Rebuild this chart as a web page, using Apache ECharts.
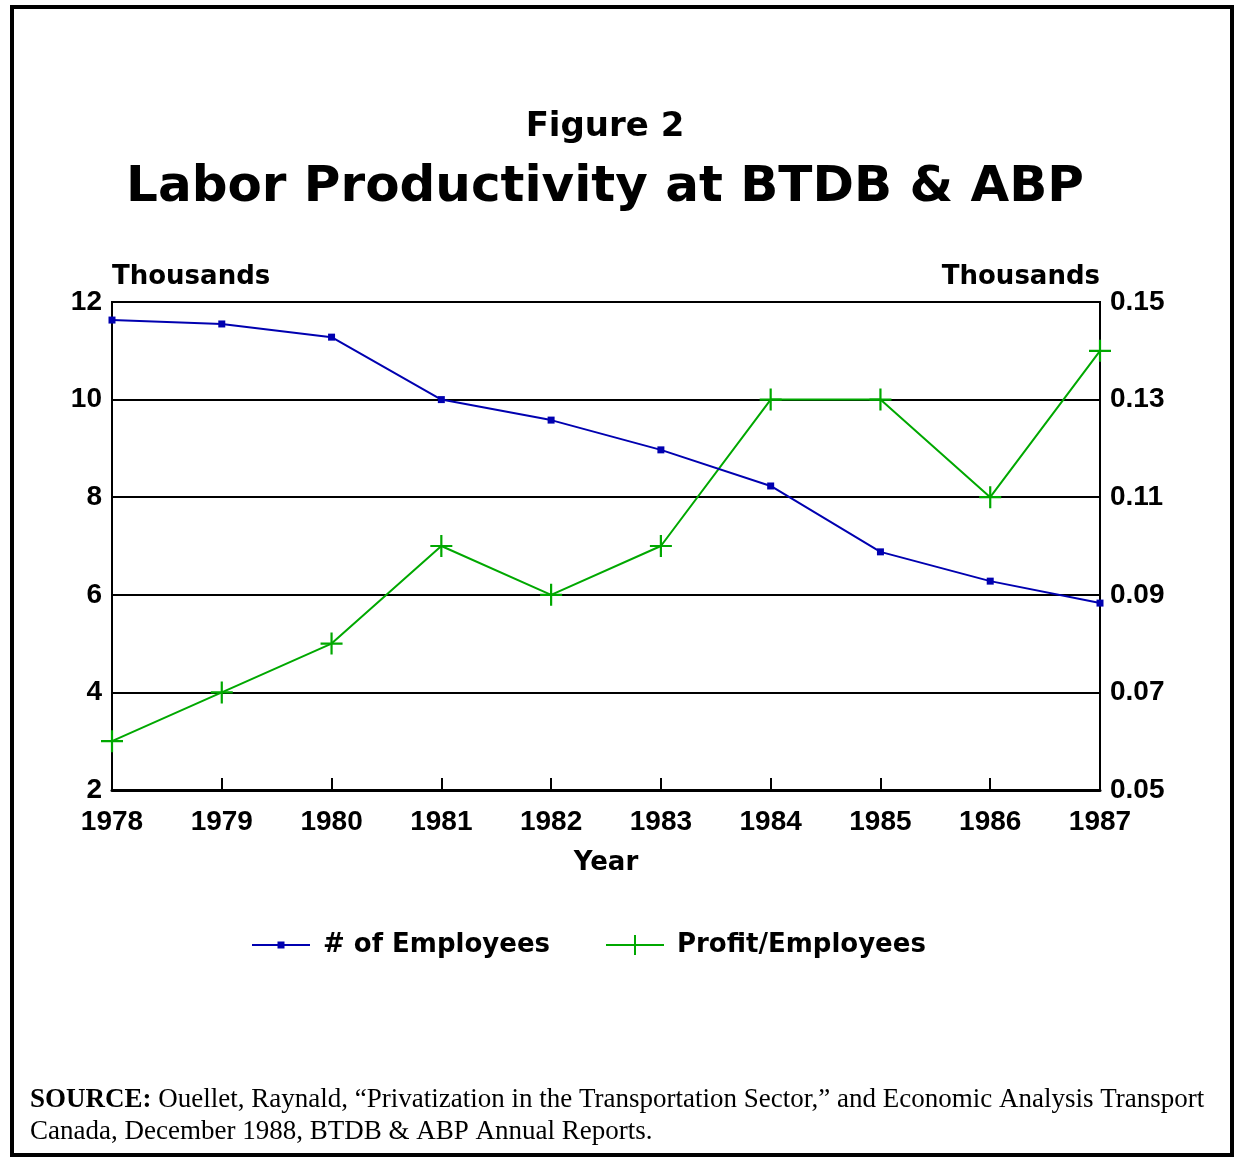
<!DOCTYPE html>
<html>
<head>
<meta charset="utf-8">
<script src="https://cdn.jsdelivr.net/npm/echarts@6/dist/echarts.min.js"></script>
<style>
  html, body { margin: 0; padding: 0; background: #fff; }
  #chart { width: 1235px; height: 1158px; }
</style>
</head>
<body>
<div id="chart"></div>
<script>
const years = ["1978", "1979", "1980", "1981", "1982", "1983", "1984", "1985", "1986", "1987"];
const employees = [11.63, 11.55, 11.28, 10.0, 9.58, 8.97, 8.23, 6.88, 6.28, 5.83];
const profitPerEmployee = [0.06, 0.07, 0.08, 0.10, 0.09, 0.10, 0.13, 0.13, 0.11, 0.14];

const FONT = "Liberation Sans";
const WIDE = "DejaVu Sans";
const BLUE = "#0000b0";
const GREEN = "#00a800";
const PLUS = "path://M0,9 L9,9 L9,0 L11,0 L11,9 L20,9 L20,11 L11,11 L11,20 L9,20 L9,11 L0,11 Z";
// legend icons: line with a small marker in the middle
const ICON_BLUE = "path://M0,9 L58,9 L58,11 L0,11 Z M25.5,6.5 L32.5,6.5 L32.5,13.5 L25.5,13.5 Z";
const ICON_GREEN = "path://M0,9 L58,9 L58,11 L0,11 Z M28,0 L30,0 L30,20 L28,20 Z";

const chart = echarts.init(document.getElementById("chart"));

const labelStyle = {
  fontFamily: FONT,
  fontWeight: "bold",
  fontSize: 28,
  color: "#000",
};

const nameStyle = {
  fontFamily: WIDE,
  fontWeight: "bold",
  fontSize: 26,
  color: "#000",
};

chart.setOption({
  backgroundColor: "#fff",
  animation: false,
  legend: {
    left: 247,
    top: 927,
    itemWidth: 58,
    itemHeight: 20,
    itemGap: 56,
    textStyle: { fontFamily: WIDE, fontWeight: "bold", fontSize: 26, color: "#000", padding: [0, 0, 0, 8] },
    data: [
      { name: "# of Employees", icon: ICON_BLUE },
      { name: "Profit/Employees", icon: ICON_GREEN },
    ],
  },
  grid: {
    left: 112,
    right: 135,
    top: 302,
    bottom: 368,
    show: true,
    borderColor: "#000",
    borderWidth: 2,
  },
  xAxis: {
    type: "category",
    data: years,
    boundaryGap: false,
    name: "Year",
    nameLocation: "middle",
    nameGap: 60,
    nameTextStyle: nameStyle,
    axisLine: { lineStyle: { color: "#000", width: 3 } },
    axisTick: { inside: true, length: 12, lineStyle: { color: "#000", width: 2 } },
    axisLabel: { ...labelStyle, margin: 18 },
    splitLine: { show: false },
  },
  yAxis: [
    {
      type: "value",
      min: 2,
      max: 12,
      interval: 2,
      name: "Thousands",
      nameGap: 12,
      nameTextStyle: { ...nameStyle, align: "left" },
      axisLine: { show: true, lineStyle: { color: "#000", width: 2 } },
      axisTick: { show: false },
      axisLabel: { ...labelStyle, margin: 10 },
      splitLine: { lineStyle: { color: "#000", width: 2 } },
    },
    {
      type: "value",
      min: 0.05,
      max: 0.15,
      interval: 0.02,
      name: "Thousands",
      nameGap: 12,
      nameTextStyle: { ...nameStyle, align: "right" },
      axisLine: { show: true, lineStyle: { color: "#000", width: 2 } },
      axisTick: { show: false },
      axisLabel: { ...labelStyle, margin: 10, formatter: (v) => v.toFixed(2) },
      splitLine: { show: false },
    },
  ],
  series: [
    {
      name: "# of Employees",
      type: "line",
      yAxisIndex: 0,
      data: employees,
      symbol: "rect",
      symbolSize: 7,
      lineStyle: { color: BLUE, width: 2 },
      itemStyle: { color: BLUE },
      z: 3,
    },
    {
      name: "Profit/Employees",
      type: "line",
      yAxisIndex: 1,
      data: profitPerEmployee,
      symbol: PLUS,
      symbolSize: 22,
      lineStyle: { color: GREEN, width: 2 },
      itemStyle: { color: GREEN },
      z: 2,
    },
  ],
  graphic: [
    {
      type: "rect",
      shape: { x: 12, y: 7, width: 1220, height: 1148 },
      style: { fill: "none", stroke: "#000", lineWidth: 4 },
      silent: true,
    },
    {
      type: "text",
      x: 605,
      y: 127,
      style: {
        text: "Figure 2",
        font: "bold 34px 'DejaVu Sans'",
        fill: "#000",
        align: "center",
        verticalAlign: "middle",
      },
    },
    {
      type: "text",
      x: 605,
      y: 188,
      style: {
        text: "Labor Productivity at BTDB & ABP",
        font: "bold 50px 'DejaVu Sans'",
        fill: "#000",
        align: "center",
        verticalAlign: "middle",
      },
    },
    {
      type: "text",
      left: 30,
      top: 1084,
      style: {
        text: "{b|SOURCE:} Ouellet, Raynald, \u201cPrivatization in the Transportation Sector,\u201d and Economic Analysis Transport\nCanada, December 1988, BTDB & ABP Annual Reports.",
        font: "27px 'Liberation Serif'",
        fill: "#000",
        lineHeight: 32,
        rich: {
          b: { fontFamily: "Liberation Serif", fontWeight: "bold", fontSize: 27, fill: "#000" },
        },
      },
    },
  ],
});
</script>
</body>
</html>
